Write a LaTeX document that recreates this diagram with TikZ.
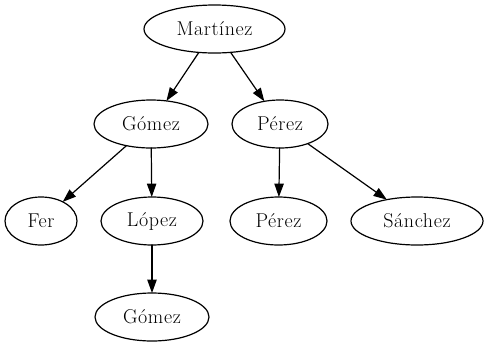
\documentclass[tikz,border=0pt]{standalone}
\usepackage{fontspec}
\newfontfamily\treefont{Latin Modern Roman}[LetterSpace=3]
\usetikzlibrary{arrows.meta}
\usetikzlibrary{shapes.geometric}

\tikzset{
  person/.style={draw,ellipse,line width=0.9pt,inner sep=0pt,outer sep=0pt,
    minimum height=36pt,font=\treefont\fontsize{15}{18}\selectfont},
  link/.style={line width=0.9pt,-{Triangle[length=10pt,width=7pt]}}
}

\begin{document}
\begin{tikzpicture}[x=0.75pt,y=-0.75pt,line cap=round,line join=round]
\path[use as bounding box] (0,0) rectangle (489,347);

% family tree, one row per generation (widths in pt)
\node[person,minimum width=105.75pt] (mart) at (214.5,29) {Martínez};

\node[person,minimum width=85.5pt] (gomA) at (151,124) {Gómez};
\node[person,minimum width=72pt]   (perA) at (280,124) {Pérez};

\node[person,minimum width=54pt]   (fer)  at (41,221)  {Fer};
\node[person,minimum width=76.5pt] (lop)  at (152,221) {López};
\node[person,minimum width=72.75pt] (perB) at (278.5,221) {Pérez};
\node[person,minimum width=99pt]   (san)  at (417,221) {Sánchez};

\node[person,minimum width=85.5pt] (gomB) at (152,317) {Gómez};

\foreach \from/\to in {mart/gomA,mart/perA,gomA/fer,gomA/lop,
                       perA/perB,perA/san,lop/gomB}{
  \draw[link] (\from) -- (\to);
}
\end{tikzpicture}
\end{document}
